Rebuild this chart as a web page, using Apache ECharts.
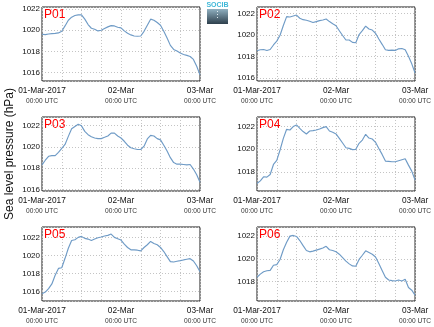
<!DOCTYPE html>
<html>
<head>
<meta charset="utf-8">
<script src="https://cdn.jsdelivr.net/npm/echarts@6/dist/echarts.min.js"></script>
<style>
  html, body { margin: 0; padding: 0; background: #fff; }
  #chart { width: 434px; height: 327px; }
</style>
</head>
<body>
<div id="chart"></div>
<script>
// Hourly sea level pressure (hPa), 01-Mar-2017 00:00 UTC to 03-Mar-2017 00:00 UTC
const HOURS = [0,1,2,3,4,5,6,7,8,9,10,11,12,13,14,15,16,17,18,19,20,21,22,23,24,
               25,26,27,28,29,30,31,32,33,34,35,36,37,38,39,40,41,42,43,44,45,46,47,48];

const P01 = [1019.62,1019.59,1019.65,1019.68,1019.71,1019.75,1019.90,1020.41,1020.95,1021.24,
             1021.40,1021.46,1021.46,1021.05,1020.54,1020.19,1020.10,1019.94,1020.00,1020.16,
             1020.32,1020.44,1020.41,1020.29,1020.22,1019.94,1019.71,1019.56,1019.46,1019.43,
             1019.46,1019.90,1020.48,1021.05,1020.95,1020.73,1020.48,1019.90,1019.27,1018.57,
             1018.19,1018.03,1017.84,1017.71,1017.62,1017.52,1017.24,1016.60,1015.78];
const P02 = [1018.52,1018.61,1018.64,1018.55,1018.64,1019.06,1019.42,1019.97,1020.88,1021.70,
             1021.67,1021.76,1021.85,1021.55,1021.42,1021.36,1021.27,1021.15,1021.24,1021.33,
             1021.39,1021.48,1021.24,1021.03,1020.85,1020.39,1019.94,1019.52,1019.52,1019.30,
             1019.27,1020.03,1020.39,1020.82,1020.55,1020.45,1020.15,1019.61,1019.12,1018.61,
             1018.55,1018.58,1018.55,1018.70,1018.73,1018.61,1018.00,1017.30,1016.45];
const P03 = [1018.31,1018.74,1019.11,1019.17,1019.17,1019.48,1019.85,1020.22,1020.98,1021.69,
             1021.91,1022.12,1021.97,1021.45,1021.14,1020.95,1020.83,1020.77,1020.77,1020.89,
             1021.02,1021.29,1021.29,1021.02,1020.83,1020.52,1020.15,1019.91,1019.82,1019.75,
             1019.75,1020.06,1020.74,1021.08,1021.02,1020.77,1020.65,1020.15,1019.60,1018.98,
             1018.52,1018.37,1018.37,1018.34,1018.31,1018.34,1017.91,1017.38,1016.68];
const P04 = [1016.96,1017.20,1017.56,1017.53,1017.76,1018.65,1019.01,1019.93,1020.96,1021.76,
             1021.70,1022.00,1022.15,1021.85,1021.56,1021.35,1021.61,1021.64,1021.70,1021.79,
             1021.91,1022.00,1021.61,1021.50,1021.35,1020.96,1020.55,1020.13,1020.07,1019.96,
             1019.99,1020.52,1020.81,1021.32,1020.99,1020.90,1020.61,1020.07,1019.54,1018.95,
             1018.92,1018.89,1018.89,1018.98,1019.07,1019.16,1018.59,1018.06,1017.26];
const P05 = [1015.76,1015.94,1016.32,1016.84,1017.81,1018.56,1018.64,1019.68,1020.80,1021.66,
             1021.74,1022.00,1022.11,1021.89,1021.81,1021.66,1021.81,1021.96,1022.04,1022.15,
             1022.22,1022.37,1022.00,1021.85,1021.70,1021.25,1020.88,1020.62,1020.62,1020.58,
             1020.50,1020.88,1021.18,1021.55,1021.33,1021.18,1020.88,1020.43,1019.87,1019.31,
             1019.27,1019.35,1019.42,1019.50,1019.57,1019.64,1019.38,1018.86,1018.19];
const P06 = [1018.39,1018.66,1018.87,1018.96,1018.99,1019.44,1019.50,1019.95,1020.80,1021.46,
             1022.00,1022.06,1021.97,1021.61,1021.16,1020.74,1020.62,1020.68,1020.77,1020.86,
             1020.95,1021.10,1020.80,1020.74,1020.62,1020.41,1020.11,1019.80,1019.56,1019.38,
             1019.35,1019.95,1020.32,1020.71,1020.56,1020.41,1020.17,1019.59,1018.99,1018.39,
             1018.15,1018.09,1018.06,1018.15,1018.06,1018.21,1017.49,1017.25,1016.80];

const STATIONS = ['P01', 'P02', 'P03', 'P04', 'P05', 'P06'];
const SERIES = [P01, P02, P03, P04, P05, P06];

// Pressure axis limits per station
const Y_MIN = [1015.2, 1015.7, 1015.85, 1016.3, 1014.95, 1016.3];
const Y_MAX = [1022.2, 1022.6, 1022.8, 1022.85, 1023.15, 1022.8];

// Day tick labels at 0, 24 and 48 h
const DAY_LABELS = ['01-Mar-2017', '02-Mar', '03-Mar'];
const TIME_LABEL = '00:00 UTC';
const Y_TITLE = 'Sea level pressure (hPa)';

const FONT = '"Liberation Sans", Arial, Helvetica, sans-serif';
const LINE_COLOR = '#6f9bc6';

// Panel layout: two columns, three rows
const COL_LEFT = [42, 257];
const COL_WIDTH = [158, 159];
const ROW_TOP = [7, 117, 227];
const ROW_HEIGHT = 74;

const chart = echarts.init(document.getElementById('chart'), null, { renderer: 'canvas' });

const grids = [], xAxes = [], yAxes = [], series = [], titles = [];

STATIONS.forEach((name, i) => {
  const col = i % 2, row = Math.floor(i / 2);
  grids.push({
    left: COL_LEFT[col], top: ROW_TOP[row], width: COL_WIDTH[col], height: ROW_HEIGHT,
    show: true, borderColor: '#1a1a1a', borderWidth: 1, backgroundColor: '#fff'
  });
  xAxes.push({
    type: 'value', gridIndex: i, min: 0, max: 48, interval: 6,
    axisLine: { show: false }, axisTick: { show: false },
    splitLine: { show: true, lineStyle: { color: '#c4c4c4', type: [1, 2], width: 1 } },
    axisLabel: {
      show: true, margin: 4, showMinLabel: true, showMaxLabel: true, hideOverlap: false,
      formatter: (v) => {
        if (v % 24 !== 0) return '';
        return '{d|' + DAY_LABELS[v / 24] + '}\n{t|' + TIME_LABEL + '}';
      },
      rich: {
        d: { fontFamily: FONT, fontSize: 8.3, color: '#111', lineHeight: 11 },
        t: { fontFamily: FONT, fontSize: 6.6, color: '#333', lineHeight: 10 }
      }
    }
  });
  yAxes.push({
    type: 'value', gridIndex: i, min: Y_MIN[i], max: Y_MAX[i],
    minInterval: 2, maxInterval: 2, splitNumber: 3,
    axisLine: { show: false }, axisTick: { show: false },
    splitLine: { show: true, lineStyle: { color: '#c4c4c4', type: [1, 2], width: 1 } },
    axisLabel: {
      show: true, margin: 2, showMinLabel: false, showMaxLabel: false,
      fontFamily: FONT, fontSize: 8, color: '#111',
      formatter: (v) => (Math.abs(v - Math.round(v / 2) * 2) < 1e-6 ? String(Math.round(v)) : '')
    }
  });
  series.push({
    type: 'line', xAxisIndex: i, yAxisIndex: i,
    data: HOURS.map((h, k) => [h, SERIES[i][k]]),
    showSymbol: false, symbol: 'none',
    lineStyle: { color: LINE_COLOR, width: 1.15 },
    emphasis: { disabled: true }
  });
  titles.push({
    text: name, left: COL_LEFT[col] + 2, top: ROW_TOP[row] + 2, padding: 0,
    textStyle: { color: '#ff0000', fontSize: 12, fontWeight: 'normal', fontFamily: FONT }
  });
});

const option = {
  animation: false,
  backgroundColor: '#fff',
  title: titles,
  grid: grids,
  xAxis: xAxes,
  yAxis: yAxes,
  series: series,
  graphic: [
    {
      // shared y-axis title, reading bottom to top
      type: 'text', x: 10, y: 154, rotation: Math.PI / 2,
      style: {
        text: Y_TITLE, fontFamily: FONT, fontSize: 12, fill: '#111',
        textAlign: 'center', textVerticalAlign: 'middle'
      }
    },
    {
      type: 'group', x: 207, y: 2,
      children: [
        {
          type: 'rect', shape: { x: 0, y: 7, width: 21, height: 15 },
          style: {
            fill: new echarts.graphic.LinearGradient(0, 0, 0, 1, [
              { offset: 0, color: '#8fb0c0' },
              { offset: 1, color: '#2e3f4c' }
            ])
          }
        },
        {
          type: 'text', x: 10.5, y: 0,
          style: {
            text: 'SOCIB', fontFamily: FONT, fontSize: 7, fontWeight: 'bold',
            fill: '#3fb8d8', textAlign: 'center', textVerticalAlign: 'top'
          }
        },
        {
          type: 'text', x: 10.5, y: 9,
          style: {
            text: '⋮', fontFamily: FONT, fontSize: 9,
            fill: '#e8f2f6', textAlign: 'center', textVerticalAlign: 'top'
          }
        }
      ]
    }
  ]
};

chart.setOption(option);
</script>
</body>
</html>
